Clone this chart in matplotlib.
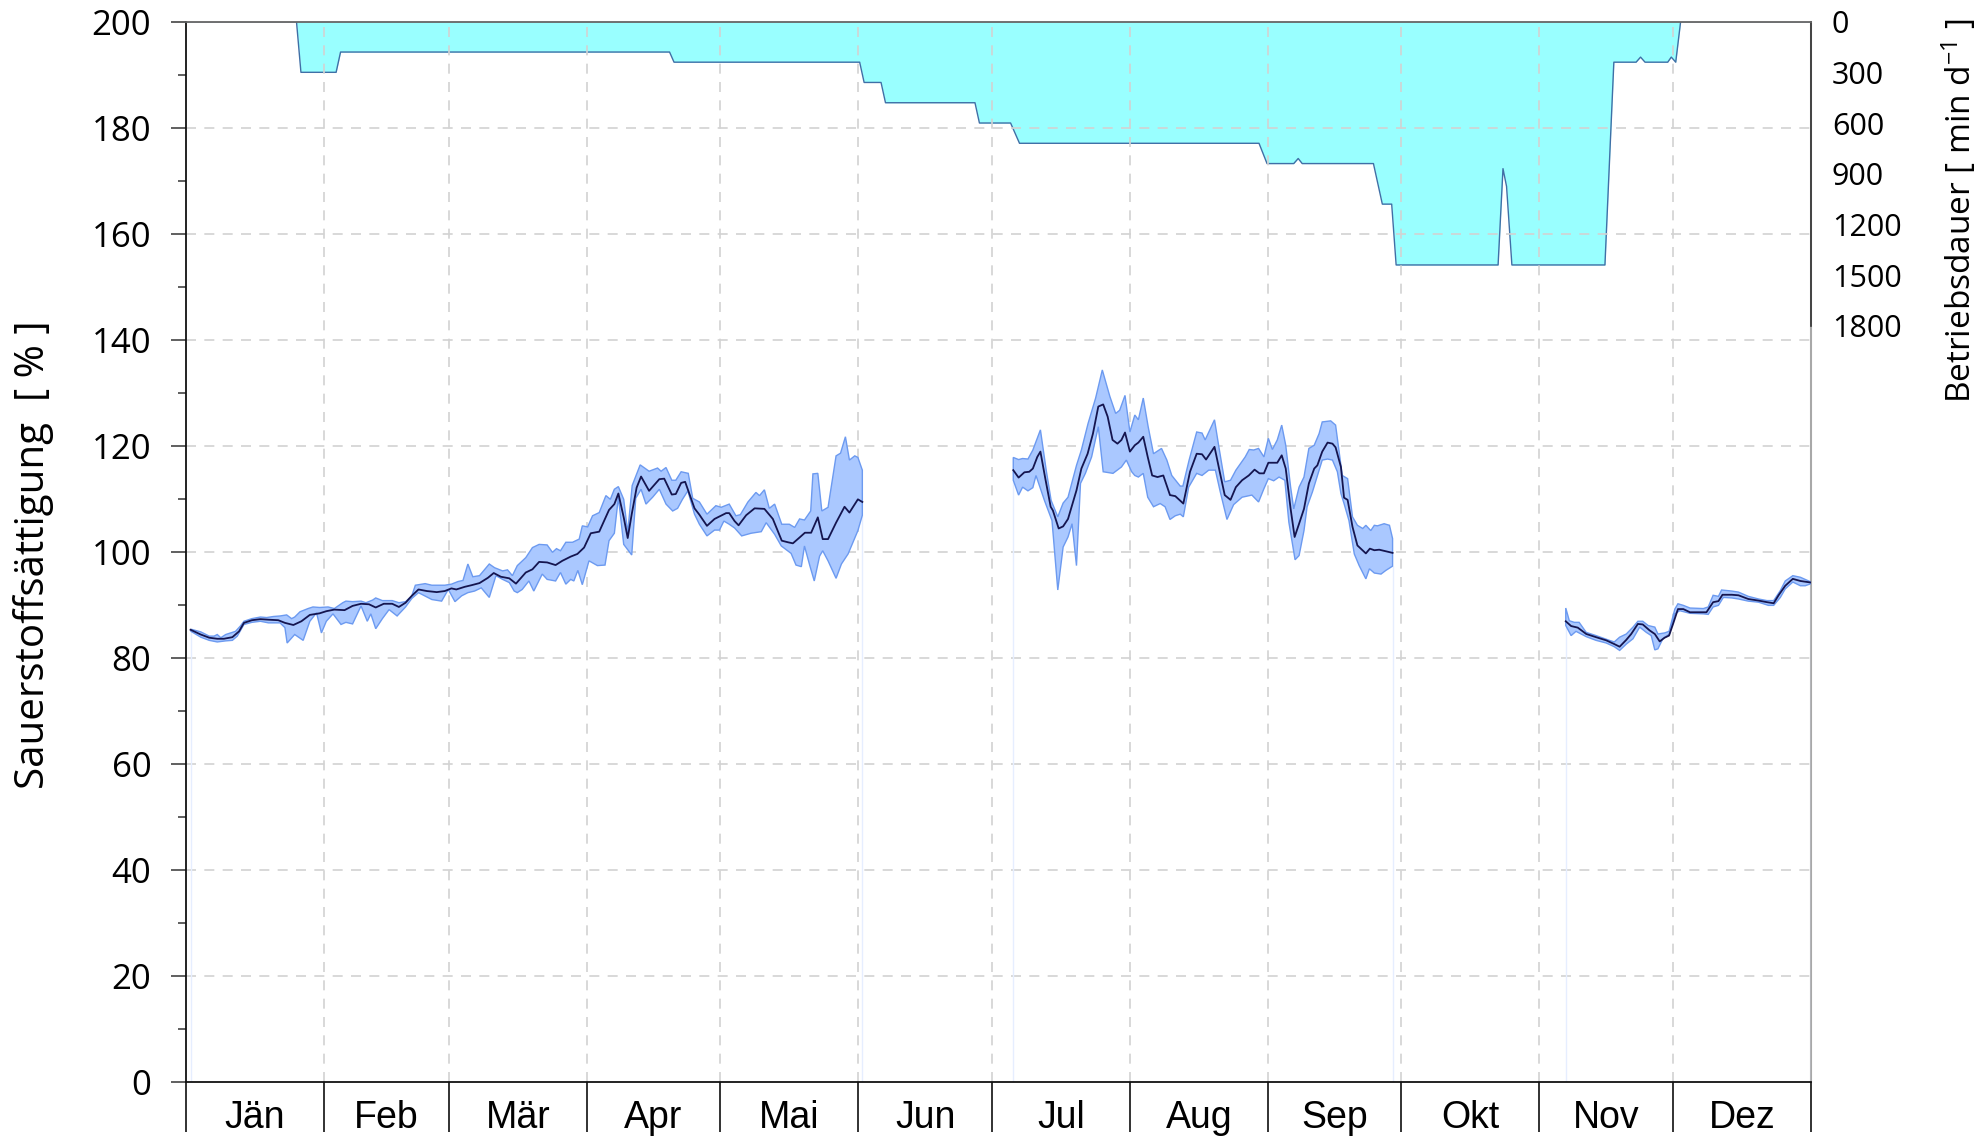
import matplotlib
matplotlib.use('Agg')
import matplotlib.pyplot as plt
import numpy as np
from matplotlib import font_manager
from matplotlib.ticker import FixedLocator, MultipleLocator, NullFormatter

# month axis
months = ['Jän', 'Feb', 'Mär', 'Apr', 'Mai', 'Jun', 'Jul', 'Aug', 'Sep', 'Okt', 'Nov', 'Dez']
month_edges = [0, 31, 59, 90, 120, 151, 181, 212, 243, 273, 304, 334, 365]

# Sauerstoffsaettigung, segment 1 (Jan - Mai)
mean1_day = [1, 3.3, 5.2, 7, 8.5, 10.4, 11.9, 13, 14.8, 16.7, 18.5, 20.7, 22.2, 24.1, 25.9, 27.8, 30, 31.5, 33.3, 35.6,
             37.4, 39.3, 41.1, 42.6, 44.4, 46.3, 47.8, 49.3, 50.7, 52.2, 54.1, 56.3, 58.1, 59.6, 60.7, 62.6, 64.1, 65.9,
             67.8, 69.1, 70.7, 72.6, 74.1, 76.3, 77.8, 79.3, 81.1, 83, 84.5, 86.4, 87.9, 89.4, 90.9, 92.8, 95, 96.2,
             97.1, 98.3, 99.2, 100.1, 101.2, 102.2, 104, 106.3, 107.4, 109.1, 110, 111.2, 112.1, 114.2, 115.3, 117,
             118.7, 121.3, 122, 123.2, 124.1, 125.8, 127.7, 129.9, 131.8, 133.8, 135.2, 136.3, 137.8, 139, 140.4,
             141.9, 143, 144.2, 146, 147.9, 149, 150.9, 151.9]
mean1_val = [85.3, 84.4, 83.8, 83.6, 83.6, 83.9, 85.0, 86.6, 87.1, 87.3, 87.2, 87.1, 86.6, 86.2, 86.9, 88.1, 88.4, 88.8,
             89.1, 89.0, 89.8, 90.2, 90.1, 89.5, 90.2, 90.2, 89.6, 90.4, 91.7, 92.9, 92.6, 92.4, 92.6, 93.1, 92.9, 93.4,
             93.7, 94.1, 95.1, 96.0, 95.3, 95.0, 94.0, 96.1, 96.7, 98.1, 98.0, 97.5, 98.3, 99.1, 99.6, 100.8, 103.5,
             103.8, 107.9, 109, 111, 106.5, 102.6, 107.1, 112.1, 114.2, 111.5, 113.7, 113.8, 110.8, 110.9, 113, 113.2,
             108.2, 107, 104.9, 106.2, 107.3, 107.3, 105.8, 105, 106.9, 108.2, 108.1, 106.2, 102.1, 101.8, 101.6,
             102.7, 103.6, 103.6, 106.5, 102.4, 102.4, 105.5, 108.5, 107.4, 109.9, 109.4]
max1_day = [1.1, 3.3, 5.2, 6.3, 7.0, 7.8, 8.9, 10.0, 11.1, 12.2, 13.0, 14.8, 16.7, 18.1, 19.6, 21.1, 22.6, 23.7, 24.4,
            25.6, 27.4, 28.5, 30.0, 31.9, 33.3, 35.2, 35.9, 37.4, 39.3, 40.4, 41.9, 42.6, 44.1, 46.3, 47.8, 49.3, 50.7,
            51.5, 53.7, 55.2, 58.1, 59.6, 61.1, 62.2, 63.3, 64.4, 65.9, 68.1, 69.3, 71.1, 72.2, 73.3, 74.4, 76.3, 77.8,
            79.3, 81.1, 82.3, 83.2, 84.1, 85.3, 86.8, 88.3, 89.0, 90.2, 91.3, 92.8, 94.3, 95.3, 96.2, 97.1, 98.3, 99.2,
            100.2, 102.0, 104.0, 105.9, 106.7, 107.8, 109.1, 110.0, 111.2, 112.8, 113.8, 115.3, 117.0, 119.0, 120.2,
            122.0, 123.5, 124.5, 126.2, 128.0, 128.8, 129.9, 131.0, 132.2, 133.8, 135.5, 136.7, 137.8, 138.9, 140.3,
            140.8, 141.9, 142.8, 144.2, 146.0, 147.0, 148.1, 149.0, 150.2, 150.9, 151.9]
max1_val = [85.4, 84.9, 84.1, 84.1, 84.4, 83.8, 84.4, 84.7, 85.0, 86.0, 86.9, 87.4, 87.7, 87.6, 87.8, 87.9, 88.1, 87.4,
            87.7, 88.7, 89.3, 89.6, 89.5, 89.6, 89.3, 90.4, 90.7, 90.6, 90.7, 90.4, 90.9, 91.3, 90.8, 90.8, 90.4, 90.6,
            91.7, 93.7, 94.0, 93.7, 93.7, 93.9, 94.4, 94.6, 97.7, 95.3, 95.5, 97.7, 97.0, 96.4, 96.6, 95.5, 97.4, 98.9,
            100.8, 101.4, 101.3, 99.9, 100.6, 100.2, 101.8, 101.8, 102.4, 104.9, 104.7, 106.8, 107.4, 110.6, 109.9,
            111.8, 112.3, 109.9, 103.6, 112.5, 116.4, 115.2, 115.8, 115.2, 115.9, 113.5, 113.5, 115.1, 114.8, 110.1,
            109.4, 107.1, 108.7, 108.4, 109.0, 106.8, 107.0, 109.4, 111.2, 110.6, 111.7, 108.2, 109.0, 105.2, 105.2,
            104.6, 106.2, 106.0, 107.7, 114.7, 114.8, 107.7, 108.4, 118.1, 118.6, 121.7, 117.3, 118.1, 117.8, 115.4]
min1_day = [1.1, 3.3, 5.2, 7.0, 8.9, 10.4, 11.5, 13.0, 14.8, 16.7, 18.5, 21.1, 22.2, 22.7, 24.4, 26.3, 27.8, 29.3, 30.4,
            31.5, 33.0, 34.8, 35.9, 37.4, 39.3, 40.7, 41.5, 42.6, 44.1, 45.6, 47.4, 49.3, 50.7, 52.2, 55.2, 57.4, 58.9,
            60.4, 61.9, 63.3, 64.8, 66.3, 68.1, 69.6, 71.1, 72.6, 73.7, 74.4, 75.5, 77.0, 78.1, 80.0, 81.1, 83.0, 84.1,
            85.3, 86.4, 87.1, 88.0, 89.0, 90.5, 92.4, 94.1, 95.0, 96.2, 97.1, 98.3, 100.1, 101.0, 102.2, 103.3, 104.8,
            106.3, 107.8, 109.3, 110.4, 111.5, 112.7, 114.2, 115.3, 117.0, 118.7, 119.8, 120.8, 122.0, 123.2, 124.8,
            126.9, 129.2, 130.3, 132.2, 133.7, 135.9, 137.0, 138.2, 138.9, 140.1, 141.1, 142.3, 143.0, 144.2, 146.0,
            147.2, 148.7, 149.8, 150.9, 151.9]
min1_val = [85.0, 83.9, 83.3, 83.0, 83.2, 83.3, 84.1, 86.3, 86.7, 86.9, 86.6, 86.6, 85.7, 82.8, 84.4, 83.3, 86.9, 88.5,
            84.7, 86.9, 88.3, 86.3, 86.7, 86.4, 89.8, 86.9, 88.3, 85.5, 87.4, 89.1, 87.9, 89.6, 91.2, 92.3, 91.0, 90.7,
            92.9, 90.6, 91.7, 92.3, 92.6, 93.2, 91.4, 95.5, 94.8, 94.2, 92.6, 92.3, 92.9, 94.5, 92.6, 95.8, 94.8, 94.5,
            96.1, 93.9, 94.8, 94.5, 96.5, 93.8, 98.3, 97.4, 97.5, 102.1, 103.5, 110.3, 101.4, 99.4, 110.1, 111.8, 109.0,
            110.3, 111.8, 109.0, 107.7, 108.2, 109.9, 111.5, 107.1, 105.2, 103.0, 104.1, 104.1, 105.8, 105.2, 104.5,
            103.0, 103.5, 103.8, 105.5, 103.3, 101.1, 99.7, 97.5, 97.2, 101.1, 97.4, 94.5, 99.2, 100.2, 98.3, 95.0,
            97.7, 99.6, 101.8, 104.0, 106.9]

# segment 2 (Jul - Sep)
mean2_day = [185.8, 187.0, 188.3, 189.4, 190.2, 191.2, 191.9, 193.0, 194.2, 194.7, 196.0, 197.0, 198.1, 200.0, 201.1,
             202.5, 203.7, 204.9, 206.0, 207.0, 208.1, 209.2, 210.1, 210.9, 212.0, 213.1, 213.9, 215.0, 216.0, 217.0,
             218.2, 219.5, 221.0, 222.2, 224.0, 225.5, 227.0, 228.2, 229.1, 231.0, 232.1, 233.3, 234.6, 235.8, 237.2,
             238.7, 240.0, 241.1, 242.1, 243.1, 244.1, 245.1, 246.1, 247.0, 248.1, 249.0, 250.0, 251.1, 252.2, 253.4,
             254.1, 255.2, 256.4, 257.5, 258.2, 259.4, 260.1, 260.9, 262.0, 263.1, 265.0, 265.9, 266.9, 268.0, 269.5,
             271.0]
mean2_val = [115.4, 114.0, 115.0, 115.1, 115.7, 117.9, 118.9, 113.8, 108.5, 107.8, 104.4, 104.8, 106.2, 111.6, 115.7,
             118.5, 122.3, 127.4, 127.8, 125.5, 121.1, 120.4, 121.1, 122.5, 118.9, 120.1, 120.6, 121.7, 117.9, 114.4,
             114.1, 114.4, 110.7, 110.5, 109.1, 115.1, 118.5, 118.4, 117.4, 119.8, 115.4, 110.7, 109.8, 112.2, 113.5,
             114.4, 115.5, 114.8, 114.8, 116.8, 116.8, 116.8, 118.2, 115.7, 108.1, 102.8, 105.3, 108.1, 112.9, 115.7,
             116.3, 118.9, 120.6, 120.4, 119.7, 116.0, 110.2, 109.8, 104.7, 101.2, 99.7, 100.6, 100.3, 100.4, 100.1,
             99.8]
max2_day = [185.8, 187.0, 187.9, 189.1, 190.2, 191.9, 193.2, 194.3, 195.8, 197.0, 198.1, 200.0, 201.1, 202.6, 204.3,
            205.8, 207.5, 208.8, 209.7, 210.9, 212.0, 213.1, 213.9, 215.0, 216.1, 217.3, 219.1, 220.3, 221.4, 223.3,
            223.9, 225.3, 227.0, 228.2, 228.9, 231.0, 232.1, 233.3, 234.6, 235.8, 237.9, 238.8, 239.8, 240.9, 242.1,
            243.1, 244.0, 245.1, 246.1, 247.0, 248.1, 248.8, 250.0, 251.1, 252.2, 253.4, 254.5, 255.2, 257.1, 258.2,
            259.7, 260.9, 262.0, 263.1, 264.3, 265.0, 266.1, 266.9, 267.6, 269.1, 270.3, 271.0]
max2_val = [117.8, 117.4, 117.6, 117.5, 119.2, 123.0, 115.4, 109.7, 106.6, 109.2, 110.3, 116.3, 119.2, 124.2, 129.0,
            134.3, 129.3, 126.1, 126.7, 129.5, 122.6, 125.8, 124.9, 129.0, 123.6, 118.5, 119.5, 117.3, 114.4, 112.4,
            112.4, 117.3, 122.6, 122.4, 121.1, 124.9, 119.2, 113.2, 113.5, 115.4, 117.9, 119.3, 119.2, 119.5, 117.9,
            121.4, 119.3, 121.1, 123.9, 120.1, 112.2, 108.1, 112.2, 114.1, 119.5, 120.1, 122.3, 124.5, 124.7, 123.9,
            114.4, 113.8, 106.6, 105.0, 104.4, 105.0, 104.0, 105.0, 104.9, 105.3, 105.0, 102.5]
min2_day = [185.8, 187.0, 187.9, 189.1, 190.2, 190.9, 192.8, 194.5, 195.8, 197.0, 198.1, 199.0, 200.0, 200.9, 202.0,
            203.4, 204.9, 206.0, 208.2, 210.1, 211.2, 212.4, 213.1, 213.9, 215.0, 216.0, 217.3, 218.8, 219.9, 221.0,
            222.2, 223.3, 224.0, 225.2, 227.0, 228.2, 229.7, 231.2, 232.3, 233.8, 235.3, 237.2, 239.4, 240.9, 242.1,
            243.1, 244.3, 245.5, 246.8, 247.7, 249.1, 250.0, 251.1, 251.8, 253.0, 254.5, 255.2, 256.4, 257.5, 258.6,
            259.4, 260.1, 261.2, 262.4, 263.5, 265.0, 265.8, 266.9, 268.4, 269.5, 271.0]
min2_val = [113.5, 110.7, 112.2, 111.5, 112.1, 114.4, 109.7, 105.9, 92.8, 100.9, 102.8, 105.3, 97.4, 112.9, 114.8,
            117.9, 123.6, 115.1, 114.8, 116.0, 117.3, 115.1, 114.4, 114.1, 114.8, 110.3, 108.5, 109.1, 108.5, 106.1,
            106.8, 107.1, 106.6, 112.2, 114.8, 114.4, 115.4, 115.4, 111.3, 106.1, 108.9, 110.3, 110.7, 109.4, 111.9,
            113.8, 113.4, 114.1, 113.5, 105.6, 98.5, 99.3, 104.0, 108.5, 111.3, 115.4, 117.3, 117.5, 117.3, 115.1,
            111.0, 109.1, 105.9, 99.6, 97.4, 94.9, 96.8, 96.0, 95.8, 96.5, 97.3]

# segment 3 (Nov - Dez)
mean3_day = [309.9, 311.1, 312.6, 314.5, 316.7, 319.0, 320.8, 322.0, 323.5, 324.6, 326.1, 327.2, 328.7, 329.9, 331.0,
             332.1, 333.1, 334.0, 335.1, 336.3, 337.8, 339.6, 341.5, 343.0, 344.2, 345.1, 347.2, 348.7, 350.9, 353.2,
             355.1, 356.6, 357.7, 359.2, 360.9, 362.6, 365.0]
mean3_val = [86.9, 86.0, 85.7, 84.5, 83.9, 83.3, 82.6, 82.1, 83.4, 84.5, 86.4, 86.3, 85.2, 84.5, 83.1, 83.8, 84.2,
             86.4, 89.2, 89.2, 88.6, 88.6, 88.6, 90.5, 90.7, 91.9, 91.9, 91.8, 91.1, 90.8, 90.5, 90.3, 91.8, 93.6,
             94.9, 94.5, 94.2]
max3_day = [309.9, 310.7, 311.8, 312.9, 314.5, 316.7, 319.7, 320.8, 322.0, 323.5, 325.0, 326.1, 327.2, 328.4, 329.9,
            330.6, 332.1, 333.1, 334.4, 335.1, 336.3, 337.8, 340.8, 341.9, 343.0, 344.2, 344.9, 347.2, 348.7, 350.9,
            353.2, 355.1, 356.6, 358.1, 359.2, 360.9, 362.6, 365.0]
max3_val = [89.4, 87.0, 86.7, 86.7, 84.8, 84.2, 83.3, 83.0, 83.9, 84.5, 85.8, 86.9, 86.9, 86.1, 85.8, 84.5, 84.7,
            85.0, 89.2, 90.2, 89.9, 89.4, 89.3, 89.6, 91.8, 91.6, 92.8, 92.6, 92.4, 91.6, 91.1, 90.8, 90.8, 92.7,
            94.5, 95.5, 95.2, 94.3]
min3_day = [309.9, 311.1, 312.2, 314.5, 316.7, 319.0, 320.8, 322.0, 323.5, 325.0, 326.5, 328.0, 329.1, 329.9, 330.6,
            331.7, 333.2, 334.4, 335.5, 337.8, 340.8, 341.9, 343.0, 344.2, 345.3, 347.2, 348.7, 350.9, 353.2, 355.4,
            356.6, 358.1, 359.2, 360.9, 362.6, 363.7, 365.0]
min3_val = [86.1, 84.2, 85.0, 84.0, 83.3, 82.8, 82.1, 81.4, 82.6, 83.6, 85.8, 84.8, 84.2, 81.5, 81.7, 83.6, 84.5,
            88.3, 88.9, 88.4, 88.3, 88.2, 89.6, 89.9, 91.4, 91.3, 91.1, 90.7, 90.5, 89.9, 89.9, 91.4, 93.0, 94.3,
            93.6, 93.6, 94.0]

# Betriebsdauer [min/d]
bd_day = [0, 24.8, 25.8, 33.7, 34.7, 108.6, 109.6, 151.3, 152.3, 156.1, 157.1, 177.2, 178.2, 185.2, 187.2, 241.0,
          242.8, 248.8, 249.8, 250.7, 266.7, 268.7, 270.8, 271.8, 294.7, 295.8, 296.6, 297.8, 318.7, 320.7, 325.7,
          326.7, 327.7, 332.8, 333.6, 334.6, 335.7, 365]
bd_min = [0, 0, 300, 300, 180, 180, 240, 240, 360, 360, 480, 480, 600, 600, 720, 720, 840, 840, 810, 840, 840, 1080,
          1080, 1440, 1440, 870, 975, 1440, 1440, 240, 240, 210, 240, 240, 210, 240, 0, 0]

installed = {f.name for f in font_manager.fontManager.ttflist}
num_font = 'Open Sans' if 'Open Sans' in installed else 'DejaVu Sans'
month_font = 'Liberation Sans Narrow' if 'Liberation Sans Narrow' in installed else 'Liberation Sans'
plt.rcParams['font.family'] = [num_font, 'DejaVu Sans']
plt.rcParams['mathtext.default'] = 'regular'

fig = plt.figure(figsize=(19.88, 11.38), dpi=100)
ax = fig.add_axes([0.0936, 0.0492, 0.8174, 0.9318])
ax2 = ax.twinx()
ax.set_zorder(ax2.get_zorder() + 1)
ax.patch.set_visible(False)

# Betriebsdauer (right axis, inverted)
ax2.fill_between(bd_day, 0, bd_min, color='#99ffff', linewidth=0)
ax2.plot(bd_day, bd_min, color='#3f6fa6', lw=1.0)
ax2.set_ylim(6275, 0)
ax2.set_yticks([0, 300, 600, 900, 1200, 1500, 1800])
ax2.tick_params(axis='y', length=0, pad=15, labelsize=22)
for s in ['left', 'top', 'bottom']:
    ax2.spines[s].set_visible(False)
ax2.spines['right'].set_bounds(0, 1800)
ax2.spines['right'].set_color('#333333')
ax2.spines['right'].set_linewidth(1.2)
ax2.axvline(365, color='#a8a8a8', lw=1.5, clip_on=False, zorder=1)

# Sauerstoffsaettigung bands and means
band_fc = '#aac8ff'
band_ec = '#6c9af0'
segments = [(max1_day, max1_val, min1_day, min1_val, mean1_day, mean1_val),
            (max2_day, max2_val, min2_day, min2_val, mean2_day, mean2_val),
            (max3_day, max3_val, min3_day, min3_val, mean3_day, mean3_val)]
for up_d, up_v, lo_d, lo_v, m_d, m_v in segments:
    ax.vlines([lo_d[0], lo_d[-1]], 0, [lo_v[0], lo_v[-1]], color='#e6eeff', lw=1.0, zorder=1.5)
    ax.fill(np.concatenate([up_d, lo_d[::-1]]), np.concatenate([up_v, lo_v[::-1]]),
            facecolor=band_fc, edgecolor=band_ec, lw=1.0, zorder=2)
    ax.plot(m_d, m_v, color='#15154f', lw=1.3, zorder=3)

ax.set_xlim(0, 365)
ax.set_ylim(0, 200)

# grid
for yv in range(20, 200, 20):
    ax.axhline(yv, color='#d2d2d2', lw=1.2, ls=(0, (6, 5)), zorder=0.5)
for xv in month_edges[1:-1]:
    ax.axvline(xv, color='#d2d2d2', lw=1.2, ls=(0, (6, 5)), zorder=0.5)

# x axis: month boundaries as long ticks, names centred
ax.xaxis.set_major_locator(FixedLocator(month_edges))
ax.xaxis.set_major_formatter(NullFormatter())
mids = [(a + b) / 2 for a, b in zip(month_edges[:-1], month_edges[1:])]
ax.xaxis.set_minor_locator(FixedLocator(mids))
ax.set_xticklabels(months, minor=True)
ax.tick_params(axis='x', which='major', direction='out', length=36, width=1.3, color='#222222')
ax.tick_params(axis='x', which='minor', length=0, pad=13, labelsize=27)
for lab in ax.get_xticklabels(minor=True):
    lab.set_family([month_font, 'DejaVu Sans'])

# left y axis
ax.yaxis.set_major_locator(MultipleLocator(20))
ax.yaxis.set_minor_locator(MultipleLocator(10))
ax.tick_params(axis='y', which='major', direction='out', length=11, width=1.2, pad=14, labelsize=25,
               color='#444444')
ax.tick_params(axis='y', which='minor', direction='out', length=6, width=1.2, color='#444444')
ax.tick_params(axis='y', right=False)

ax.spines['left'].set_color('#111111')
ax.spines['left'].set_linewidth(1.3)
ax.spines['bottom'].set_color('#111111')
ax.spines['bottom'].set_linewidth(1.3)
ax.spines['top'].set_color('#666666')
ax.spines['top'].set_linewidth(1.3)
ax.spines['right'].set_visible(False)

fig.text(34 / 1988, 0.513, 'Sauerstoffsättigung  [ % ]', rotation=90, ha='center', va='center', fontsize=29)
fig.text(1959 / 1988, 0.815, r'Betriebsdauer [ min d$^{-1}$ ]', rotation=90, ha='center', va='center',
         fontsize=24)

fig.savefig('out.png', dpi=100)
